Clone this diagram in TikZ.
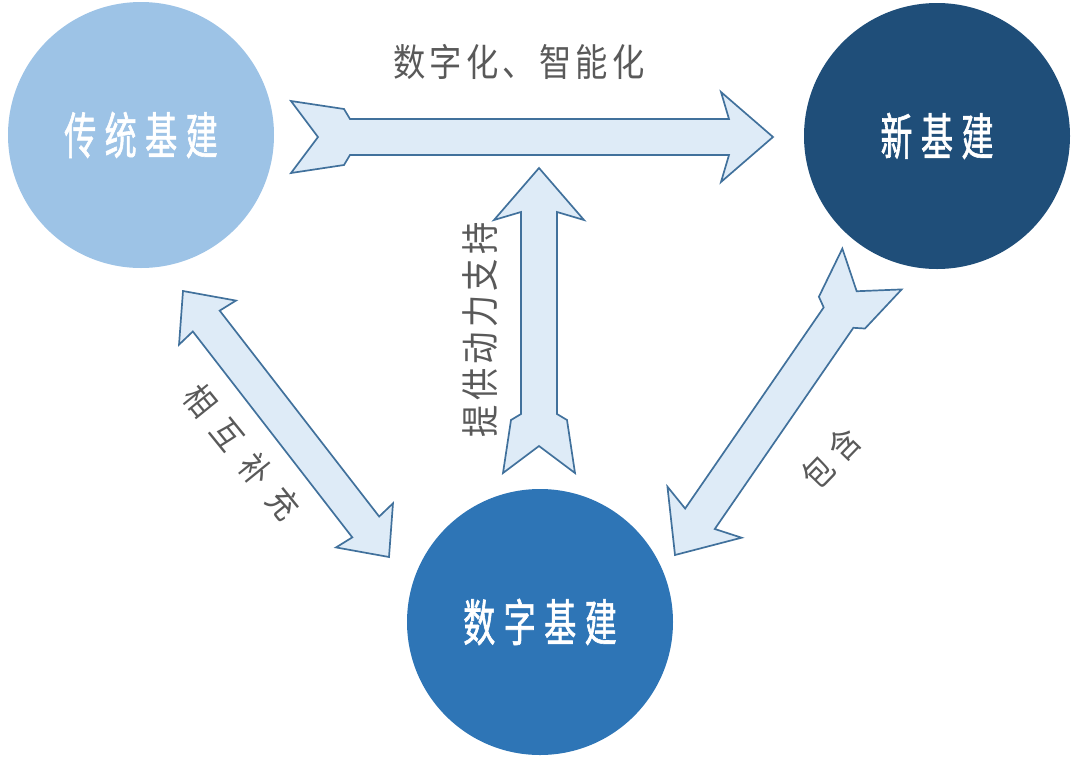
\documentclass[tikz,border=0pt]{standalone}
\usepackage{fontspec}
\usepackage{tikz}
\usetikzlibrary{calc}

\newfontfamily\circfont{Noto Sans CJK SC}[FakeStretch=0.64,LetterSpace=17,FakeBold=1.2]
\newfontfamily\labfont{Noto Sans CJK SC}[FakeStretch=0.85,LetterSpace=11]
\newfontfamily\widefont{Noto Sans CJK SC}[FakeStretch=0.85,LetterSpace=45]
\newfontfamily\pairfont{Noto Sans CJK SC}[FakeStretch=0.85,LetterSpace=26]

\definecolor{tradblue}{HTML}{9DC3E6}
\definecolor{newblue}{HTML}{1F4E79}
\definecolor{digiblue}{HTML}{2E75B6}
\definecolor{arrowfill}{HTML}{DEEBF7}
\definecolor{arrowline}{HTML}{41719C}
\definecolor{labgray}{HTML}{595959}

% arrow with swallow tail: from tail centre #1 to tip #2
\newcommand{\notcharrow}[2]{%
  \draw[bigarrow]
    ($(#1)!27pt!(#2)$)
    -- ($(#1)!36pt!90:(#2)$)
    -- ($(#1)!53pt!(#2)!28pt!90:(#2)$)
    -- ($(#1)!59pt!(#2)!18pt!90:(#2)$)
    -- ($(#2)!44pt!(#1)!18pt!-90:(#1)$)
    -- ($(#2)!52pt!(#1)!45pt!-90:(#1)$)
    -- (#2)
    -- ($(#2)!52pt!(#1)!45pt!90:(#1)$)
    -- ($(#2)!44pt!(#1)!18pt!90:(#1)$)
    -- ($(#1)!59pt!(#2)!18pt!-90:(#2)$)
    -- ($(#1)!53pt!(#2)!28pt!-90:(#2)$)
    -- ($(#1)!36pt!-90:(#2)$)
    -- cycle;}

% arrow with a head at both ends
\newcommand{\dblarrow}[2]{%
  \draw[bigarrow] (#1)
    -- ($(#1)!40pt!(#2)!36pt!90:(#2)$)
    -- ($(#1)!38pt!(#2)!17pt!90:(#2)$)
    -- ($(#2)!38pt!(#1)!17pt!-90:(#1)$)
    -- ($(#2)!40pt!(#1)!36pt!-90:(#1)$)
    -- (#2)
    -- ($(#2)!40pt!(#1)!36pt!90:(#1)$)
    -- ($(#2)!38pt!(#1)!17pt!90:(#1)$)
    -- ($(#1)!38pt!(#2)!17pt!-90:(#2)$)
    -- ($(#1)!40pt!(#2)!36pt!-90:(#2)$)
    -- cycle;}

\begin{document}
\begin{tikzpicture}[
  x=1pt, y=-1pt,
  base/.style={circle,minimum size=266pt,inner sep=0pt,text=white,
    font=\circfont\fontsize{50}{50}\selectfont},
  bigarrow/.style={fill=arrowfill,draw=arrowline,line width=1.7pt,line join=miter},
  label/.style={text=labgray,inner sep=0pt,font=\labfont\fontsize{38}{38}\selectfont}
  ]
  \useasboundingbox (0,0) rectangle (1080,772);

  \node[base,fill=tradblue] (trad) at (141,135) {传统基建};
  \node[base,fill=newblue]  (new)  at (937,136) {新基建};
  \node[base,fill=digiblue] (digi) at (540,622) {数字基建};

  \coordinate (tradout) at (291,137);
  \coordinate (newin)   at (773,137);
  \coordinate (digiout) at (539,473);
  \coordinate (midin)   at (539,168);
  \coordinate (newout)  at (872,269);
  \coordinate (digiin)  at (675,555);
  \coordinate (tradend) at (183,291);
  \coordinate (digiend) at (389,557);

  \notcharrow{tradout}{newin}
  \notcharrow{digiout}{midin}
  \notcharrow{newout}{digiin}
  \dblarrow{tradend}{digiend}

  \node[label] (upgrade) at (519,62) {数字化、智能化};
  \node[label,rotate=90] (support) at (480,330) {提供动力支持};
  \node[label,font=\widefont\fontsize{34}{34}\selectfont,rotate=-51] (mutual) at (242,452) {相互补充};
  \node[label,font=\pairfont\fontsize{34}{34}\selectfont,rotate=46] (contain) at (831,458) {包含};
\end{tikzpicture}
\end{document}
